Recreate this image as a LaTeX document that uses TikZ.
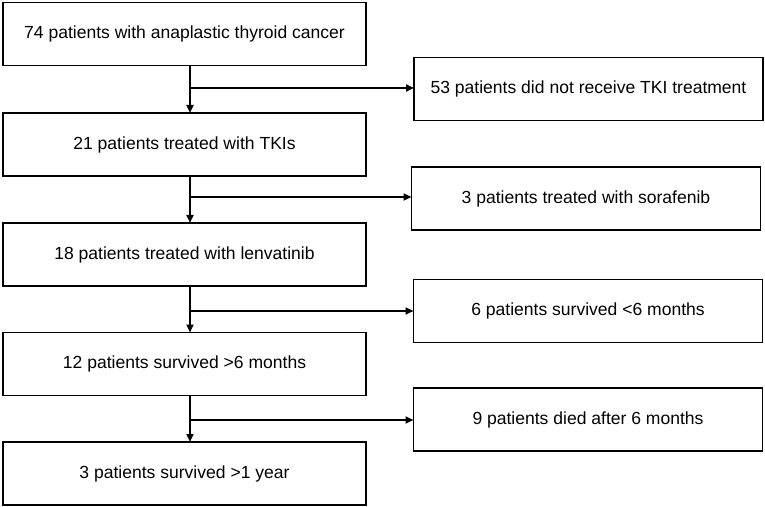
\documentclass[tikz,border=0pt]{standalone}
\usepackage{fontspec}
\setmainfont{Liberation Sans}
\usetikzlibrary{arrows.meta}
\begin{document}
\begin{tikzpicture}[x=1bp,y=-1bp,
  box/.style={draw=black,line width=1.2bp,inner sep=0pt,outer sep=0pt,
    minimum height=63bp,font=\fontsize{17.6}{21}\selectfont},
  lbox/.style={box,minimum width=363bp},
  rbox/.style={box,minimum width=349bp},
  flow/.style={line width=2bp,-{Triangle[length=8bp,width=7bp]}},
  link/.style={line width=2bp}]
\useasboundingbox (0,0) rectangle (765,507);
\node[lbox] (b1) at (184.5,34) {74 patients with anaplastic thyroid cancer};
\node[lbox] (b2) at (184.5,144.5) {21 patients treated with TKIs};
\node[lbox] (b3) at (184.5,254.5) {18 patients treated with lenvatinib};
\node[lbox] (b4) at (184.5,364) {12 patients survived >6 months};
\node[lbox] (b5) at (184.5,473.5) {3 patients survived >1 year};
\node[rbox] (r1) at (588.5,89) {53 patients did not receive TKI treatment};
\node[rbox] (r2) at (586,198.5) {3 patients treated with sorafenib};
\node[rbox] (r3) at (588,311) {6 patients survived <6 months};
\node[rbox] (r4) at (588,419.5) {9 patients died after 6 months};
\coordinate (j1) at (190,88);
\coordinate (j2) at (190,197);
\coordinate (j3) at (190,311);
\coordinate (j4) at (190,420);
\draw[flow] (b1.south -| j1) -- (b2.north -| j1);
\draw[flow] (b2.south -| j2) -- (b3.north -| j2);
\draw[flow] (b3.south -| j3) -- (b4.north -| j3);
\draw[flow] (b4.south -| j4) -- (b5.north -| j4);
\draw[flow] (j1) -- (j1 -| r1.west);
\draw[flow] (j2) -- (j2 -| r2.west);
\draw[flow] (j3) -- (j3 -| r3.west);
\draw[flow] (j4) -- (j4 -| r4.west);
\end{tikzpicture}
\end{document}
